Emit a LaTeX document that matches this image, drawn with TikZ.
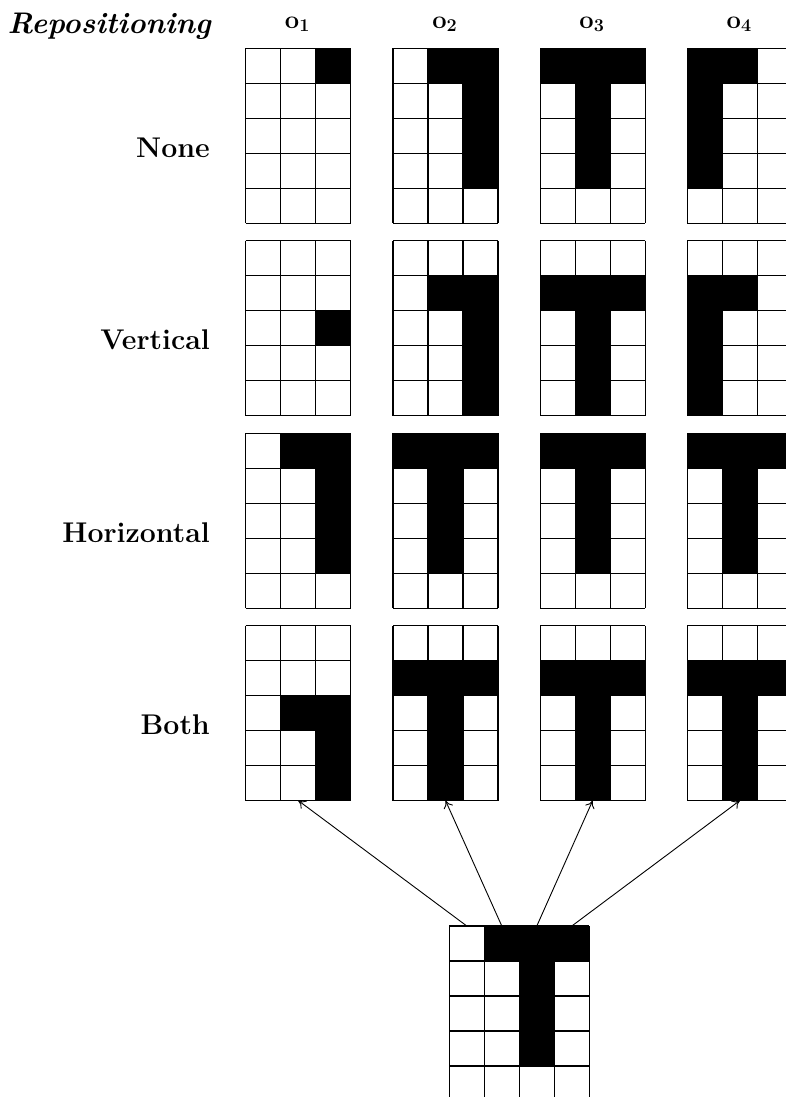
\documentclass[tikz,border=0pt]{standalone}
\usepackage{fontspec}
\usetikzlibrary{arrows.meta}
\tikzset{
  gridline/.style={line width=1.1pt, draw=black},
  cellfill/.style={fill=black},
  gridbox/.style={inner sep=0pt, outer sep=0pt, draw=none},
  rowlabel/.style={anchor=base east, inner sep=0pt, font=\fontsize{28.5}{34}\selectfont\bfseries},
  headlabel/.style={anchor=base east, inner sep=0pt, font=\fontsize{29.8}{34}\selectfont\bfseries\itshape},
  collabel/.style={anchor=base, inner sep=0pt, font=\fontsize{25.5}{30}\selectfont\bfseries},
  arrowline/.style={line width=0.9pt, -{To[length=7.5pt,width=10pt]}},
}
% #1 name, #2 left, #3 top, #4 cols, #5 rows, #6 black cells (col/row)
\newcommand{\pixgrid}[6]{%
  \node[gridbox, anchor=north west, minimum width=#4*35pt, minimum height=#5*35pt] (#1) at (#2,#3) {};
  \foreach \cx/\ry in {#6}{\fill[cellfill] ({#2+(\cx-1)*35},{#3+(\ry-1)*35}) rectangle ++(35,35);}
  \foreach \gi in {0,...,#4}{\draw[gridline] ({#2+\gi*35},{#3}) -- ++(0,{#5*35});}
  \foreach \gj in {0,...,#5}{\draw[gridline] ({#2},{#3+\gj*35}) -- ++({#4*35},0);}
}
\newcommand{\colhead}[3]{%
  \node[collabel] (#1) at (#2,29) {o\raisebox{-2.7pt}{\fontsize{18}{20}\selectfont #3}};
}
\begin{document}
\begin{tikzpicture}[x=1pt,y=-1pt]
\useasboundingbox (0,0) rectangle (786,1097);
\clip (0,0) rectangle (786,1097);
% header
\node[headlabel] (hrep) at (211,33.3) {Repositioning};
\colhead{h1}{297.2}{1}
\colhead{h2}{444.5}{2}
\colhead{h3}{591.7}{3}
\colhead{h4}{738.9}{4}
% row labels
\node[rowlabel] (lnone) at (210,157.3) {None};
\node[rowlabel] (lvert) at (210,349.7) {Vertical};
\node[rowlabel] (lhor)  at (210,542.1) {Horizontal};
\node[rowlabel] (lboth) at (210,734.5) {Both};
% None
\pixgrid{g11}{245.7}{48.3}{3}{5}{3/1}
\pixgrid{g12}{393.0}{48.3}{3}{5}{2/1,3/1,3/2,3/3,3/4}
\pixgrid{g13}{540.2}{48.3}{3}{5}{1/1,2/1,3/1,2/2,2/3,2/4}
\pixgrid{g14}{687.4}{48.3}{3}{5}{1/1,2/1,1/2,1/3,1/4}
% Vertical
\pixgrid{g21}{245.7}{240.7}{3}{5}{3/3}
\pixgrid{g22}{393.0}{240.7}{3}{5}{2/2,3/2,3/3,3/4,3/5}
\pixgrid{g23}{540.2}{240.7}{3}{5}{1/2,2/2,3/2,2/3,2/4,2/5}
\pixgrid{g24}{687.4}{240.7}{3}{5}{1/2,2/2,1/3,1/4,1/5}
% Horizontal
\pixgrid{g31}{245.7}{433.1}{3}{5}{2/1,3/1,3/2,3/3,3/4}
\pixgrid{g32}{393.0}{433.1}{3}{5}{1/1,2/1,3/1,2/2,2/3,2/4}
\pixgrid{g33}{540.2}{433.1}{3}{5}{1/1,2/1,3/1,2/2,2/3,2/4}
\pixgrid{g34}{687.4}{433.1}{3}{5}{1/1,2/1,3/1,2/2,2/3,2/4}
% Both
\pixgrid{g41}{245.7}{625.5}{3}{5}{2/3,3/3,3/4,3/5}
\pixgrid{g42}{393.0}{625.5}{3}{5}{1/2,2/2,3/2,2/3,2/4,2/5}
\pixgrid{g43}{540.2}{625.5}{3}{5}{1/2,2/2,3/2,2/3,2/4,2/5}
\pixgrid{g44}{687.4}{625.5}{3}{5}{1/2,2/2,3/2,2/3,2/4,2/5}
% source
\pixgrid{src}{449.3}{926}{4}{5}{2/1,3/1,4/1,3/2,3/3,3/4}
\coordinate (s1) at (466.8,926);
\coordinate (s2) at (501.8,926);
\coordinate (s3) at (536.8,926);
\coordinate (s4) at (571.8,926);
\draw[arrowline] (s1) -- (g41.south);
\draw[arrowline] (s2) -- (g42.south);
\draw[arrowline] (s3) -- (g43.south);
\draw[arrowline] (s4) -- (g44.south);
\end{tikzpicture}
\end{document}
